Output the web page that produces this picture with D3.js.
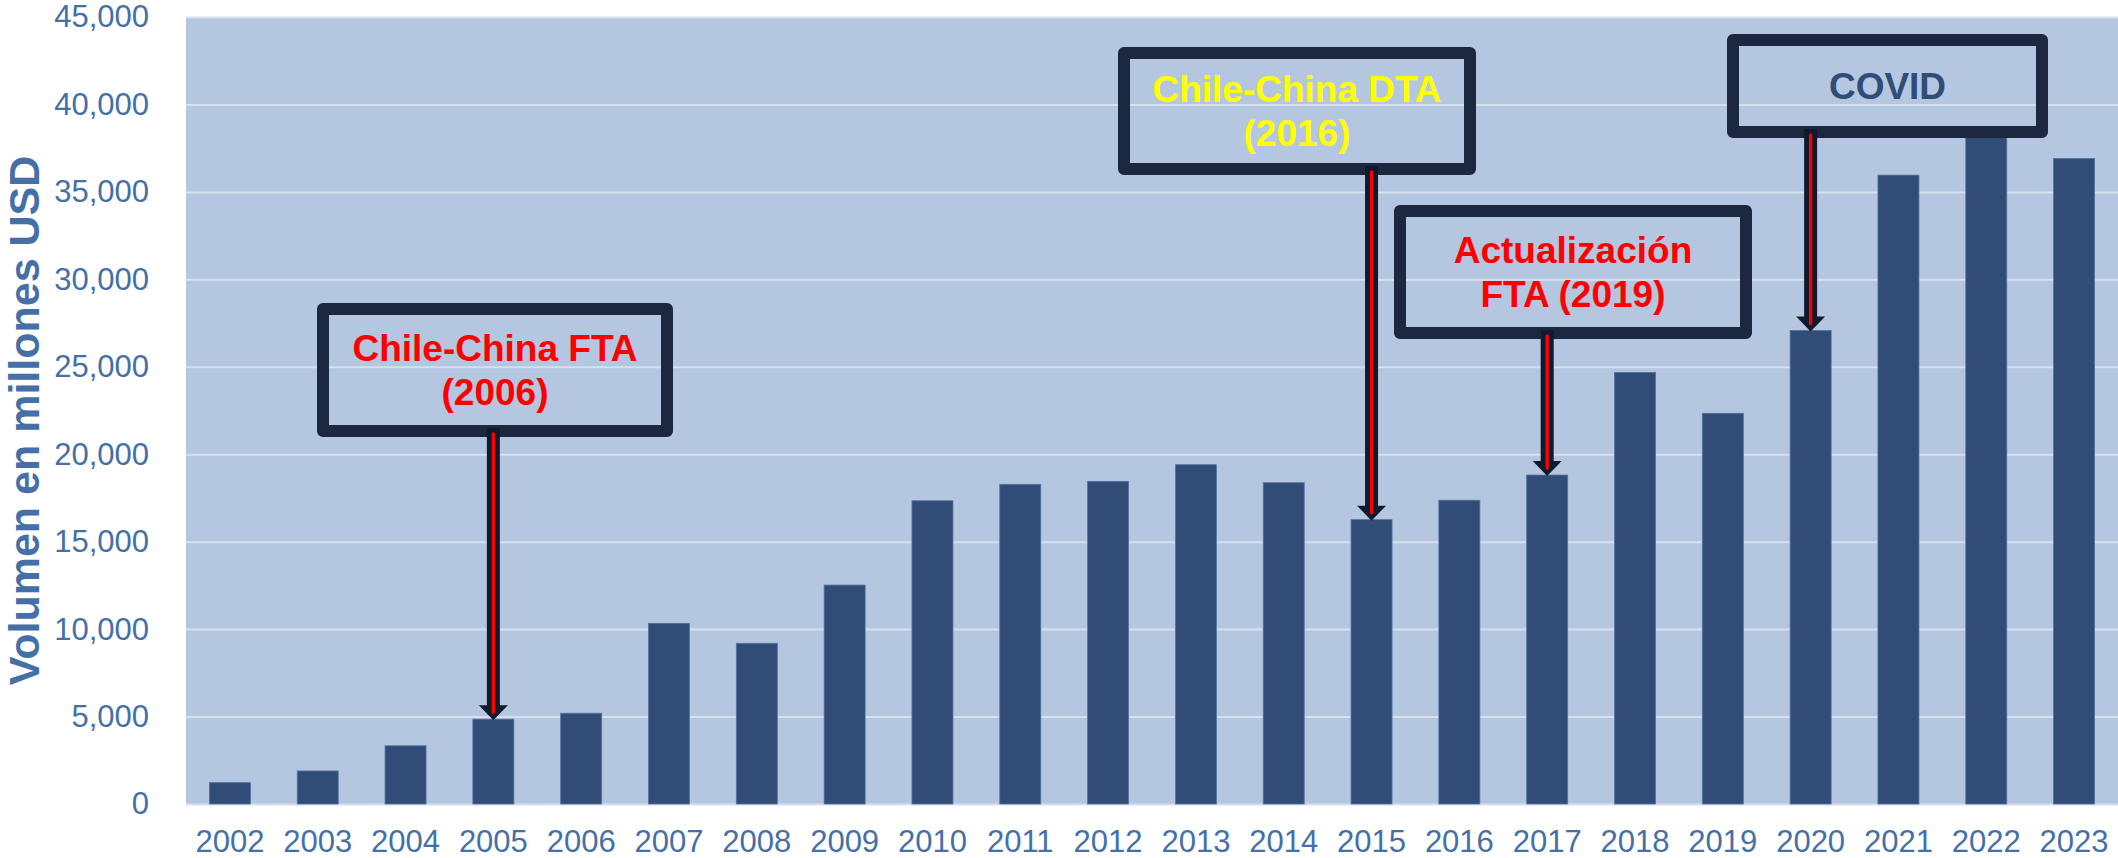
<!DOCTYPE html>
<html>
<head>
<meta charset="utf-8">
<script src="https://cdn.jsdelivr.net/npm/d3@7"></script>
<style>
  html, body { margin: 0; padding: 0; background: #ffffff; }
  svg { display: block; font-family: "Liberation Sans", Arial, sans-serif; }
</style>
</head>
<body>
<div id="chart"></div>
<script>
// Chile exports to China, millions of USD
const YEARS = [
  "2002", "2003", "2004", "2005", "2006", "2007", "2008", "2009", "2010", "2011", "2012",
  "2013", "2014", "2015", "2016", "2017", "2018", "2019", "2020", "2021", "2022", "2023",
];
const EXPORT_VALUES = [
  1220, 1890, 3330, 4850, 5190, 10330, 9190, 12520, 17340, 18280, 18450,
  19400, 18370, 16260, 17370, 18810, 24680, 22340, 27080, 35960, 38500, 36910,
];
const Y_TICKS = [0, 5000, 10000, 15000, 20000, 25000, 30000, 35000, 40000, 45000];
const Y_TITLE = "Volumen en millones USD";

// Annotation texts and the year each arrow points at
const NOTE_LINES = [
  ["Chile-China FTA", "(2006)"],
  ["Chile-China DTA", "(2016)"],
  ["Actualización", "FTA (2019)"],
  ["COVID"],
];
const NOTE_TARGETS = ["2005", "2015", "2017", "2020"];

const Chart = (() => {
  const CONTAINER = "#chart";

  const CONFIG = {
    width: 2118,
    height: 858,
    margin: { top: 17, right: 0, bottom: 54, left: 186 },
    tickFont: 31,
    titleFont: 43,
    noteFont: 37,
    noteLineHeight: 44.5,
    noteBorder: 12,
    shaftWidth: 13,
    redWidth: 3.3,
    headWidth: 29,
    headLength: 15,
  };

  const COLORS = {
    plotBg: "#b4c6e0",
    grid: "#d6e0ee",
    bar: "#304c77",
    barEdge: "#5673a0",
    axisText: "#4570a7",
    noteBorder: "#1b2840",
    arrowDark: "#0f1a2e",
    arrowRed: "#ff0000",
  };

  const NOTE_COLORS = ["#ff0000", "#ffff00", "#ff0000", "#304c77"];

  // Outer bounds of each annotation box (pixels)
  const NOTE_BOXES = [
    { x0: 317, y0: 303, x1: 673, y1: 437 },
    { x0: 1118, y0: 47, x1: 1476, y1: 175 },
    { x0: 1394, y0: 205, x1: 1752, y1: 339 },
    { x0: 1727, y0: 34, x1: 2048, y1: 138 },
  ];

  function render() {
    const { width, height, margin } = CONFIG;
    const innerW = width - margin.left - margin.right;
    const innerH = height - margin.top - margin.bottom;

    const svg = d3
      .select(CONTAINER)
      .append("svg")
      .attr("width", width)
      .attr("height", height);

    const xScale = d3
      .scaleBand()
      .domain(YEARS)
      .range([margin.left, margin.left + innerW])
      .paddingInner(0.533)
      .paddingOuter(0.2665);

    const yScale = d3
      .scaleLinear()
      .domain([0, 45000])
      .range([margin.top + innerH, margin.top]);

    // Plot background
    svg
      .append("rect")
      .attr("x", margin.left)
      .attr("y", margin.top)
      .attr("width", innerW)
      .attr("height", innerH)
      .attr("fill", COLORS.plotBg);

    // Gridlines
    svg
      .append("g")
      .attr("class", "grid-lines")
      .attr("transform", `translate(${margin.left},0)`)
      .call(d3.axisLeft(yScale).tickValues(Y_TICKS).tickSize(-innerW).tickFormat(""))
      .call((g) => g.select(".domain").remove())
      .call((g) =>
        g.selectAll(".tick line").attr("stroke", COLORS.grid).attr("stroke-width", 2)
      );

    // Bars
    const bars = YEARS.map((year, i) => ({ year, value: EXPORT_VALUES[i] }));
    svg
      .append("g")
      .selectAll("rect")
      .data(bars)
      .enter()
      .append("rect")
      .attr("x", (d) => xScale(d.year))
      .attr("y", (d) => yScale(d.value))
      .attr("width", xScale.bandwidth())
      .attr("height", (d) => yScale(0) - yScale(d.value))
      .attr("fill", COLORS.bar)
      .attr("stroke", COLORS.barEdge)
      .attr("stroke-width", 0.8);

    // Y axis labels
    svg
      .append("g")
      .attr("class", "y-axis")
      .attr("transform", `translate(${margin.left},0)`)
      .call(
        d3.axisLeft(yScale).tickValues(Y_TICKS).tickSize(0).tickPadding(37)
          .tickFormat(d3.format(","))
      )
      .call((g) => g.select(".domain").remove())
      .call((g) =>
        g.selectAll(".tick text")
          .attr("fill", COLORS.axisText)
          .style("font-size", `${CONFIG.tickFont}px`)
      );

    // X axis labels
    svg
      .append("g")
      .attr("class", "x-axis")
      .attr("transform", `translate(0,${margin.top + innerH})`)
      .call(d3.axisBottom(xScale).tickSize(0).tickPadding(26))
      .call((g) => g.select(".domain").remove())
      .call((g) =>
        g.selectAll(".tick text")
          .attr("fill", COLORS.axisText)
          .style("font-size", `${CONFIG.tickFont}px`)
      );

    // Y axis title
    svg
      .append("text")
      .attr("transform", `translate(39,${(159 + 682) / 2}) rotate(-90)`)
      .attr("text-anchor", "middle")
      .attr("fill", COLORS.axisText)
      .style("font-size", `${CONFIG.titleFont}px`)
      .style("font-weight", 700)
      .text(Y_TITLE);

    drawNotes(svg, xScale, yScale);
  }

  function drawNotes(svg, xScale, yScale) {
    const b = CONFIG.noteBorder;
    const notes = svg.append("g").attr("class", "notes");

    NOTE_BOXES.forEach((box, i) => {
      notes
        .append("rect")
        .attr("x", box.x0 + b / 2)
        .attr("y", box.y0 + b / 2)
        .attr("width", box.x1 - box.x0 - b)
        .attr("height", box.y1 - box.y0 - b)
        .attr("fill", "none")
        .attr("stroke", COLORS.noteBorder)
        .attr("stroke-width", b)
        .attr("stroke-linejoin", "round");

      const lines = NOTE_LINES[i];
      const cx = (box.x0 + box.x1) / 2;
      const cy = (box.y0 + box.y1) / 2;
      const firstBase =
        cy - ((lines.length - 1) * CONFIG.noteLineHeight) / 2 + CONFIG.noteFont * 0.355;

      lines.forEach((line, j) => {
        notes
          .append("text")
          .attr("x", cx)
          .attr("y", firstBase + j * CONFIG.noteLineHeight)
          .attr("text-anchor", "middle")
          .attr("fill", NOTE_COLORS[i])
          .style("font-size", `${CONFIG.noteFont}px`)
          .style("font-weight", 700)
          .text(line);
      });
    });

    // Arrows from each box down to its bar
    NOTE_TARGETS.forEach((year, i) => {
      const box = NOTE_BOXES[i];
      const idx = YEARS.indexOf(year);
      const ax = xScale(year) + xScale.bandwidth() / 2;
      const tipY = yScale(EXPORT_VALUES[idx]) + 1;
      const startY = box.y1 - 9;
      const headTop = tipY - CONFIG.headLength;
      const arrow = notes.append("g").attr("class", "arrow");

      arrow
        .append("rect")
        .attr("x", ax - CONFIG.shaftWidth / 2)
        .attr("y", startY)
        .attr("width", CONFIG.shaftWidth)
        .attr("height", headTop - startY + 1)
        .attr("fill", COLORS.arrowDark);

      arrow
        .append("path")
        .attr(
          "d",
          `M${ax - CONFIG.headWidth / 2},${headTop} L${ax + CONFIG.headWidth / 2},${headTop} L${ax},${tipY} Z`
        )
        .attr("fill", COLORS.arrowDark);

      arrow
        .append("line")
        .attr("x1", ax)
        .attr("x2", ax)
        .attr("y1", startY + 6)
        .attr("y2", headTop + 7)
        .attr("stroke", COLORS.arrowRed)
        .attr("stroke-width", CONFIG.redWidth)
        .attr("stroke-linecap", "round");
    });
  }

  return { render };
})();

Chart.render();
</script>
</body>
</html>
